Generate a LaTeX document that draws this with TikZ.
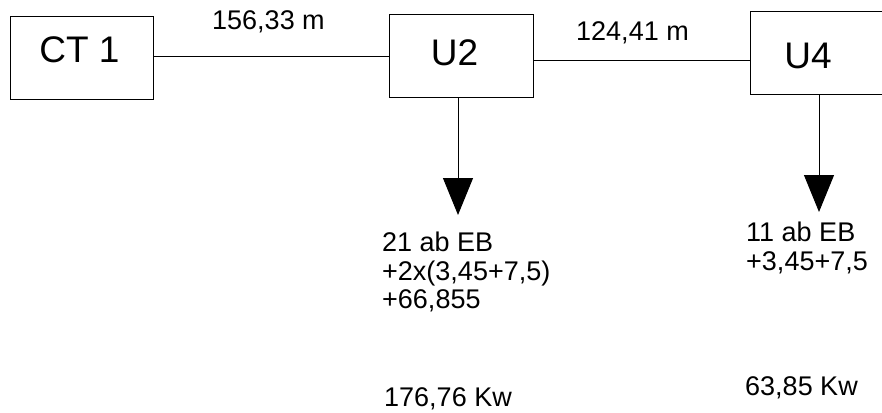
\documentclass[tikz,border=0pt]{standalone}
\usepackage{fontspec}
\setmainfont{Liberation Sans}
\usetikzlibrary{arrows.meta}
\begin{document}
\begin{tikzpicture}[x=1pt,y=-1pt,
  box/.style={draw, line width=1.1pt, inner sep=0pt, anchor=north west},
  big/.style={font=\fontsize{37}{40}\selectfont, inner sep=0pt, anchor=base},
  lbl/.style={font=\fontsize{27}{28.5}\selectfont, inner sep=0pt, align=left},
  wire/.style={line width=1pt},
  feed/.style={line width=1pt, -{Triangle[length=37pt,width=30pt]}}]
\useasboundingbox (0,0) rectangle (882,412);
\clip (0,0) rectangle (882,412);
% boxes
\node[box, minimum width=143pt, minimum height=83pt] (ct1) at (10,16) {};
\node[box, minimum width=144pt, minimum height=83pt] (u2) at (389,14) {};
\node[box, minimum width=145pt, minimum height=83pt] (u4) at (750,11) {};
\node[big] (ct1t) at (79.5,63) {CT 1};
\node[big] (u2t) at (454.5,65) {U2};
\node[big] (u4t) at (808,68) {U4};
% connectors
\draw[wire] (u2.west -| ct1.east) -- (u2.west);
\draw[wire] ([yshift=-4pt]u2.east) -- ([yshift=-4pt]u2.east -| u4.west);
\coordinate (t2) at (458,215);
\coordinate (t4) at (819,212);
\draw[feed] (u2.south -| t2) -- (t2);
\draw[feed] (u4.south -| t4) -- (t4);
% distance labels
\node[lbl, anchor=base west] (d1) at (212,30) {156,33 m};
\node[lbl, anchor=base west] (d2) at (576,41) {124,41 m};
% loads
\node[lbl, anchor=north west] (l2) at (382,232) {21 ab EB\\+2x(3,45+7,5)\\+66,855};
\node[lbl, anchor=base west] (p2) at (384,406) {176,76 Kw};
\node[lbl, anchor=north west] (l4) at (746,222) {11 ab EB\\+3,45+7,5};
\node[lbl, anchor=base west] (p4) at (745,395) {63,85 Kw};
\end{tikzpicture}
\end{document}
